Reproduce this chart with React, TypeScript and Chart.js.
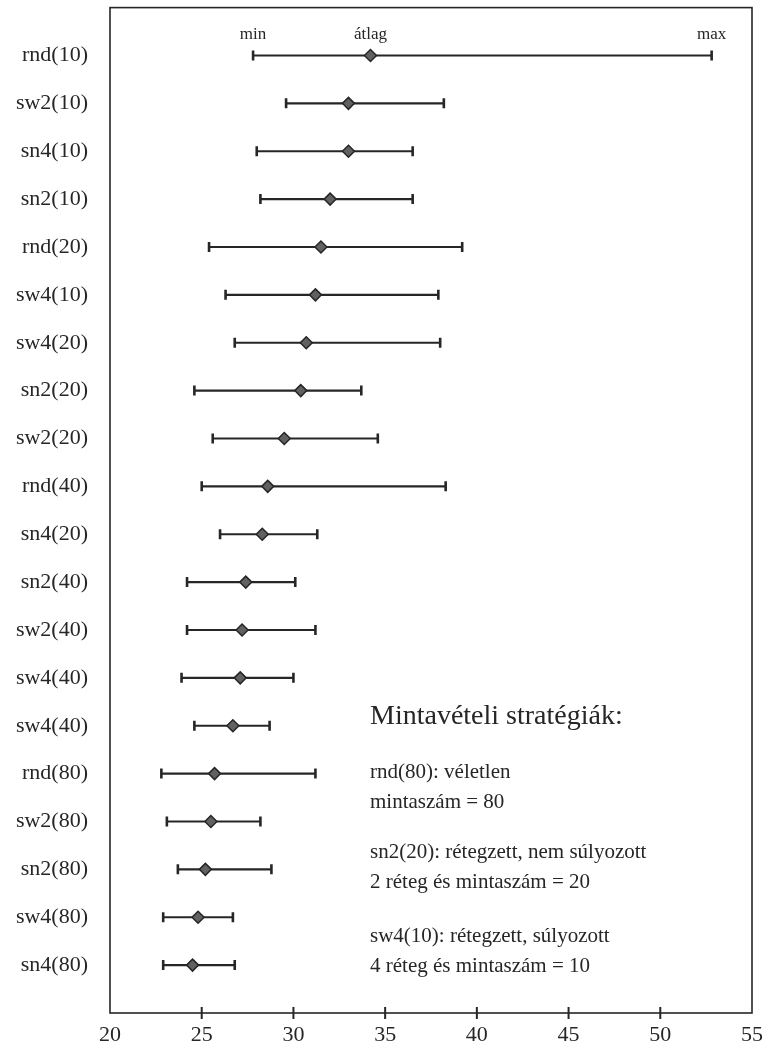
import { useEffect, useRef } from 'react';
import { Chart, registerables } from 'chart.js';

Chart.register(...registerables);

const categories = [
  'rnd(10)', 'sw2(10)', 'sn4(10)', 'sn2(10)', 'rnd(20)', 'sw4(10)', 'sw4(20)', 'sn2(20)', 'sw2(20)', 'rnd(40)',
  'sn4(20)', 'sn2(40)', 'sw2(40)', 'sw4(40)', 'sw4(40)', 'rnd(80)', 'sw2(80)', 'sn2(80)', 'sw4(80)', 'sn4(80)',
];
const minValues = [27.8, 29.6, 28.0, 28.2, 25.4, 26.3, 26.8, 24.6, 25.6, 25.0, 26.0, 24.2, 24.2, 23.9, 24.6, 22.8, 23.1, 23.7, 22.9, 22.9];
const meanValues = [34.2, 33.0, 33.0, 32.0, 31.5, 31.2, 30.7, 30.4, 29.5, 28.6, 28.3, 27.4, 27.2, 27.1, 26.7, 25.7, 25.5, 25.2, 24.8, 24.5];
const maxValues = [52.8, 38.2, 36.5, 36.5, 39.2, 37.9, 38.0, 33.7, 34.6, 38.3, 31.3, 30.1, 31.2, 30.0, 28.7, 31.2, 28.2, 28.8, 26.7, 26.8];
const xTickValues = [20, 25, 30, 35, 40, 45, 50, 55];
const markerLabels = ['min', 'átlag', 'max'];
const legendTitle = 'Mintavételi stratégiák:';
const legendGroups = [
  ['rnd(80): véletlen', 'mintaszám = 80'],
  ['sn2(20): rétegzett, nem súlyozott', '2 réteg és mintaszám = 20'],
  ['sw4(10): rétegzett, súlyozott', '4 réteg és mintaszám = 10'],
];

const FONT = '"Liberation Serif", "Times New Roman", serif';
const INK = '#262626';

const framePlugin = {
  id: 'framePlugin',
  afterDraw(chart: any) {
    const { ctx, chartArea, scales } = chart;
    const xs = scales.x;
    const ys = scales.y;
    ctx.save();
    ctx.strokeStyle = INK;
    ctx.lineWidth = 1.6;
    ctx.strokeRect(chartArea.left, chartArea.top, chartArea.right - chartArea.left, chartArea.bottom - chartArea.top);
    ctx.lineWidth = 2;
    xs.ticks.forEach((t: any) => {
      const px = xs.getPixelForValue(t.value);
      if (px <= chartArea.left + 1 || px >= chartArea.right - 1) return;
      ctx.beginPath();
      ctx.moveTo(px, chartArea.bottom - 6);
      ctx.lineTo(px, chartArea.bottom + 6);
      ctx.stroke();
    });
    ctx.fillStyle = INK;
    ctx.font = `17px ${FONT}`;
    ctx.textAlign = 'center';
    ctx.textBaseline = 'middle';
    const y0 = ys.getPixelForValue(0) - 21;
    const refVals = [minValues[0], meanValues[0], maxValues[0]];
    markerLabels.forEach((lbl, i) => {
      ctx.fillText(lbl, xs.getPixelForValue(refVals[i]), y0);
    });
    ctx.textAlign = 'left';
    ctx.font = `28px ${FONT}`;
    ctx.fillText(legendTitle, 370, 717);
    ctx.font = `21px ${FONT}`;
    const groupStarts = [772, 852, 936];
    legendGroups.forEach((g, gi) => {
      g.forEach((line, li) => {
        ctx.fillText(line, 370, groupStarts[gi] + li * 30);
      });
    });
    ctx.restore();
  },
};

export default function App() {
  const canvasRef = useRef<HTMLCanvasElement | null>(null);

  useEffect(() => {
    if (!canvasRef.current) return;
    const barDatasets = categories.map((_, i) => ({
      type: 'scatter' as const,
      data: [
        { x: minValues[i], y: i },
        { x: maxValues[i], y: i },
      ],
      showLine: true,
      borderColor: INK,
      borderWidth: 2.2,
      pointStyle: 'line',
      pointRotation: 90,
      pointRadius: 5,
      pointBorderWidth: 2.6,
      pointBorderColor: INK,
      pointHoverRadius: 5,
      order: 2,
    }));
    const meanDataset = {
      type: 'scatter' as const,
      data: meanValues.map((v, i) => ({ x: v, y: i })),
      showLine: false,
      pointStyle: 'rectRot',
      pointRadius: 6,
      pointBackgroundColor: '#616161',
      pointBorderColor: '#262626',
      pointBorderWidth: 1.5,
      order: 0,
    };
    const chart = new Chart(canvasRef.current, {
      type: 'scatter',
      data: { datasets: [meanDataset, ...barDatasets] as any },
      options: {
        animation: false,
        responsive: false,
        maintainAspectRatio: false,
        events: [],
        layout: { padding: { left: 0, top: 6, right: 17, bottom: 0 } },
        plugins: { legend: { display: false }, tooltip: { enabled: false } },
        scales: {
          x: {
            type: 'linear',
            min: 20,
            max: 55,
            afterBuildTicks: (scale: any) => {
              scale.ticks = xTickValues.map((v) => ({ value: v }));
            },
            afterFit: (scale: any) => {
              scale.height = 35;
              scale.paddingLeft = 0;
              scale.paddingRight = 0;
            },
            grid: { display: false, drawTicks: false },
            border: { display: false },
            ticks: {
              padding: 9,
              color: INK,
              font: { family: FONT, size: 22 },
              maxRotation: 0,
              autoSkip: false,
            },
          },
          y: {
            type: 'linear',
            reverse: true,
            min: -1,
            max: 20,
            afterBuildTicks: (scale: any) => {
              scale.ticks = categories.map((_, i) => ({ value: i }));
            },
            afterFit: (scale: any) => {
              scale.width = 110;
              scale.paddingTop = 0;
              scale.paddingBottom = 0;
            },
            grid: { display: false, drawTicks: false },
            border: { display: false },
            ticks: {
              padding: 22,
              color: INK,
              font: { family: FONT, size: 22 },
              autoSkip: false,
              callback: (v: any) => categories[v as number] ?? '',
            },
          },
        },
      },
      plugins: [framePlugin],
    });
    return () => chart.destroy();
  }, []);

  return (
    <div style={{ position: 'absolute', left: 0, top: 0, width: 769, height: 1048, background: '#fff' }}>
      <canvas ref={canvasRef} width={769} height={1048} style={{ display: 'block', width: 769, height: 1048 }} />
    </div>
  );
}
